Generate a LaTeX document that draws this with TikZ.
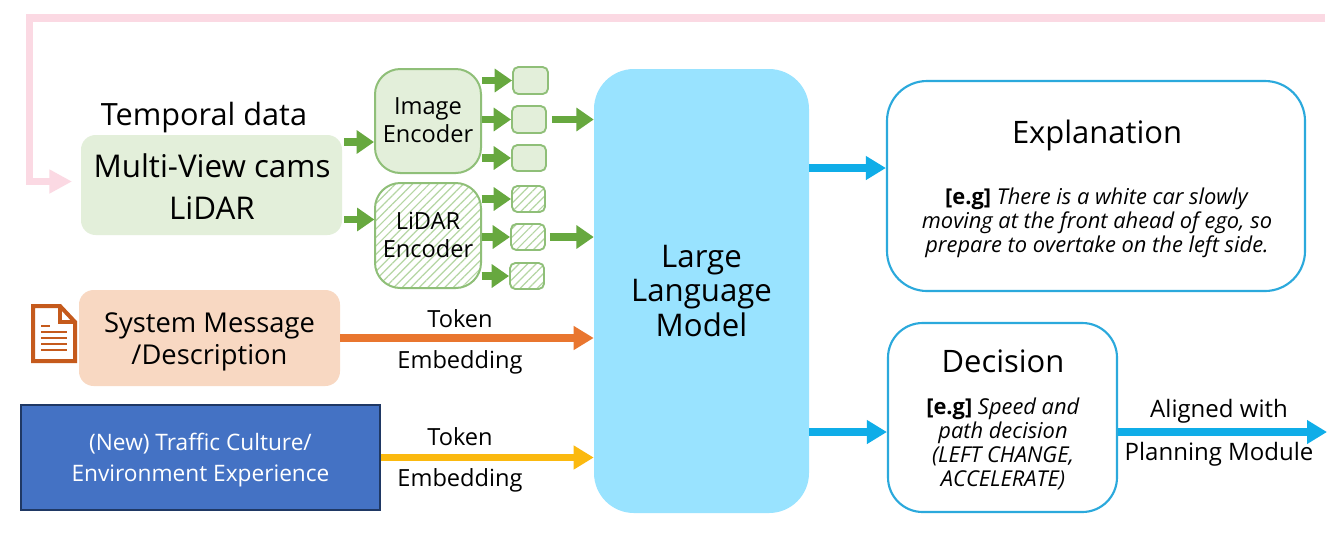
\documentclass[tikz,border=0pt]{standalone}
\usepackage{fontspec}
\setmainfont{Open Sans}
\usetikzlibrary{calc,arrows.meta,patterns.meta}
\definecolor{pinkc}{HTML}{FBD9E3}
\definecolor{greenf}{HTML}{E3EFDA}
\definecolor{greenb}{HTML}{8FBF78}
\definecolor{greenh}{HTML}{B5D6A3}
\definecolor{greena}{HTML}{67A83F}
\definecolor{llmc}{HTML}{99E3FF}
\definecolor{sysc}{HTML}{F8D8C2}
\definecolor{orangea}{HTML}{E9762F}
\definecolor{yellowa}{HTML}{FBB90F}
\definecolor{bluea}{HTML}{0FADE8}
\definecolor{blueb}{HTML}{2BA9DC}
\definecolor{blockc}{HTML}{4472C4}
\definecolor{blockb}{HTML}{1F3864}
\definecolor{docc}{HTML}{C55A1C}
\tikzset{
  wh/.style 2 args={minimum width=#1*0.75pt,minimum height=#2*0.75pt,inner sep=0pt,align=center},
  srcbox/.style={rounded corners=11pt,fill=greenf},
  enc/.style={rounded corners=19pt,draw=greenb,line width=1.5pt,fill=greenf},
  hatchfill/.style={pattern={Lines[angle=45,distance=4.5pt,line width=.9pt]},pattern color=greenh},
  tok/.style={rounded corners=4pt,draw=greenb,line width=1.4pt,fill=greenf},
  tokh/.style={rounded corners=4pt,draw=greenb,line width=1.4pt,hatchfill},
  outbox/.style={draw=blueb,line width=1.6pt,fill=white},
  lbl/.style={inner sep=0pt,align=center},
  garrow/.style={draw=greena,line width=5.5pt,-{Triangle[length=13pt,width=17pt]}},
  oarrow/.style={line width=5.4pt,-{Triangle[length=15pt,width=17pt]}},
}
\newcommand{\fa}{\fontsize{23.5}{31.5}\selectfont}
\newcommand{\fb}{\fontsize{17.7}{21}\selectfont}
\newcommand{\fd}{\fontsize{18}{21}\selectfont}
\newcommand{\fc}{\fontsize{16.4}{18}\selectfont}
\newcommand{\ft}{\fontsize{23.2}{26}\selectfont}
\begin{document}
\begin{tikzpicture}[x=0.75pt,y=-0.75pt]
\useasboundingbox (0,0) rectangle (1342,537);
\fill[white] (0,0) rectangle (1342,537);
% nodes
\node[wh={261}{100},srcbox] (multi) at (211.5,185) {};
\node[lbl,font=\fa] (multitext) at (212,187) {Multi-View cams\\LiDAR};
\node[lbl,font=\fontsize{23}{26}\selectfont] (temporal) at (204,118) {Temporal data};
\node[wh={106}{104},enc] (imgenc) at (428,121) {};
\node[lbl,font=\fb] (imgtext) at (428,120) {Image\\Encoder};
\node[wh={106}{105},enc,hatchfill] (lidenc) at (428,235.5) {};
\node[lbl,font=\fb] (lidtext) at (428,235) {LiDAR\\Encoder};
\node[wh={35}{27},tok] (s1) at (530.5,80.5) {};
\node[wh={34}{27},tok] (s2) at (529,119.5) {};
\node[wh={34}{26},tok] (s3) at (529,158) {};
\node[wh={33}{26},tokh] (l1) at (528.5,199) {};
\node[wh={34}{26},tokh] (l2) at (528,237) {};
\node[wh={34}{26},tokh] (l3) at (527,276) {};
\node[wh={215}{444},rounded corners=30pt,fill=llmc,font=\fontsize{23.4}{26}\selectfont] (llm) at (701.5,291) {Large\\Language\\Model};
\node[wh={261}{96},rounded corners=11pt,fill=sysc] (sys) at (209.5,338) {};
\node[lbl,font=\fontsize{20.5}{24}\selectfont] (systext) at (209.5,342) {System Message\\/Description};
\node[wh={359}{105},draw=blockb,line width=1.2pt,fill=blockc] (blk) at (200.5,457.5) {};
\node[lbl,text=white,font=\fontsize{17}{23}\selectfont] (blktext) at (200.5,460) {(New) Traffic Culture/\\Environment Experience};
\node[wh={418}{210},outbox,rounded corners=30pt] (expl) at (1096,186) {};
\node[lbl,font=\ft] (exptitle) at (1097,135) {Explanation};
\node[lbl,font=\fc] (exptext) at (1097,223) {\textbf{[e.g]} \textit{There is a white car slowly}\\\textit{moving at the front ahead of ego, so}\\\textit{prepare to overtake on the left side.}};
\node[wh={229}{189},outbox,rounded corners=26pt] (dec) at (1002.5,417.5) {};
\node[lbl,font=\ft] (dectitle) at (1003,361) {Decision};
\node[lbl,font=\fc] (dectext) at (1003,444) {\textbf{[e.g]} \textit{Speed and}\\\textit{path decision}\\\textit{(LEFT CHANGE,}\\\textit{ACCELERATE)}};
\node[lbl,font=\fb] (tok1) at (460,319) {Token};
\node[lbl,font=\fb] (emb1) at (460,362) {Embedding};
\node[lbl,font=\fb] (tok2) at (460,437) {Token};
\node[lbl,font=\fb] (emb2) at (460,480) {Embedding};
\node[lbl,font=\fd] (al) at (1219,411) {Aligned with};
\node[lbl,font=\fd] (pm) at (1219,454) {Planning Module};
\coordinate (fbR) at (1325,18);
\coordinate (fbL) at (29.5,18);
\coordinate (fbB) at (29.5,181.5);
\coordinate (fbE) at (72,181.5);
\coordinate (out) at (1327,432);
% feedback
\draw[pinkc,line width=5.4pt,-{Triangle[length=17pt,width=17pt]}] (fbR) -- (fbL) -- (fbB) -- (fbE);
% green arrows
\draw[garrow] ($(imgenc.west)+(-30,21)$) -- ($(imgenc.west)+(0,21)$);
\draw[garrow] ($(lidenc.west)+(-30,-16)$) -- ($(lidenc.west)+(0,-16)$);
\foreach \a/\b in {imgenc/s1,imgenc/s2,imgenc/s3,lidenc/l1,lidenc/l2,lidenc/l3}{
  \draw[garrow] (\b.west -| \a.east) -- (\b.west);
}
\draw[garrow] ($(s2.east)+(5,0)$) -- (s2.east -| llm.west);
\draw[garrow] ($(l2.east)+(4,0)$) -- (l2.east -| llm.west);
% main arrows
\draw[oarrow,draw=orangea] (sys.east) -- (sys.east -| llm.west);
\draw[oarrow,draw=yellowa] (blk.east) -- (blk.east -| llm.west);
\draw[oarrow,draw=bluea] ($(llm.east)+(0,-123)$) -- ($(expl.west)+(0,-18)$);
\draw[oarrow,draw=bluea] ($(llm.east)+(0,141)$) -- ($(dec.west)+(0,14.5)$);
\draw[oarrow,draw=bluea] ($(dec.east)+(0,14.5)$) -- (out);
% document icon
\draw[docc,line width=3pt,line join=miter,fill=white] (33,306) -- (60,306) -- (75,322) -- (75,361) -- (33,361) -- cycle;
\draw[docc,line width=2.4pt] (60,306) -- (60,322) -- (75,322);
\foreach \yy in {332,338,344,350}{\draw[docc,line width=2.2pt] (41,\yy) -- (67,\yy);}
\draw[docc,line width=2.2pt] (41,326) -- (50,326);
\end{tikzpicture}
\end{document}
